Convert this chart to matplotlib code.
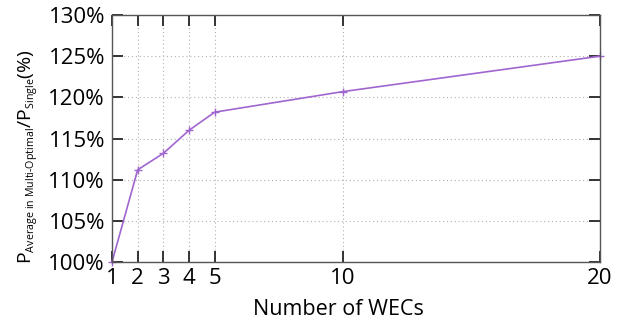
import matplotlib
matplotlib.use("Agg")
import matplotlib.pyplot as plt
import matplotlib._mathtext as _mt

_mt.SHRINK_FACTOR = 0.55

plt.rcParams['font.family'] = ['Open Sans', 'DejaVu Sans']
plt.rcParams['mathtext.fontset'] = 'custom'
plt.rcParams['mathtext.rm'] = 'Open Sans'

n_wecs = [1, 2, 3, 4, 5, 10, 20]
ratio = [100.0, 111.2, 113.2, 116.0, 118.2, 120.7, 125.0]
x_ticks = [1, 2, 3, 4, 5, 10, 20]
y_ticks = [100, 105, 110, 115, 120, 125, 130]
y_labels = ['100%', '105%', '110%', '115%', '120%', '125%', '130%']

fig = plt.figure(figsize=(6.37, 3.21), dpi=100)
ax = fig.add_axes([112/637, 59/321, 488/637, 247/321])
ax.plot(n_wecs, ratio, color='#a066d0', marker='+', markersize=6, linewidth=1.2, clip_on=False)
ax.set_xlim(1, 20)
ax.set_ylim(100, 130)
ax.set_xticks(x_ticks)
ax.set_xticklabels([str(v) for v in x_ticks])
ax.set_yticks(y_ticks)
ax.set_yticklabels(y_labels)
ax.tick_params(direction='in', length=8, width=1.4, color='#333333', top=True, right=True, labelsize=16)
ax.tick_params(axis='x', pad=4)
ax.tick_params(axis='y', pad=5)
ax.grid(True, linestyle=(0, (1, 2.5)), color='#b0b0b0', linewidth=0.8)
for s in ax.spines.values():
    s.set_color('#555555')
    s.set_linewidth(1.0)
ax.set_xlabel('Number of WECs', fontsize=15.5)
ax.xaxis.set_label_coords(0.463, -0.15)
ax.set_ylabel(r'$\mathregular{P_{\text{Average in Multi-Optimal}}/P_{\text{Single}}}$(%)', fontsize=14)
ax.yaxis.set_label_coords(-0.148, 0.425)
fig.savefig('out.png', dpi=100)
